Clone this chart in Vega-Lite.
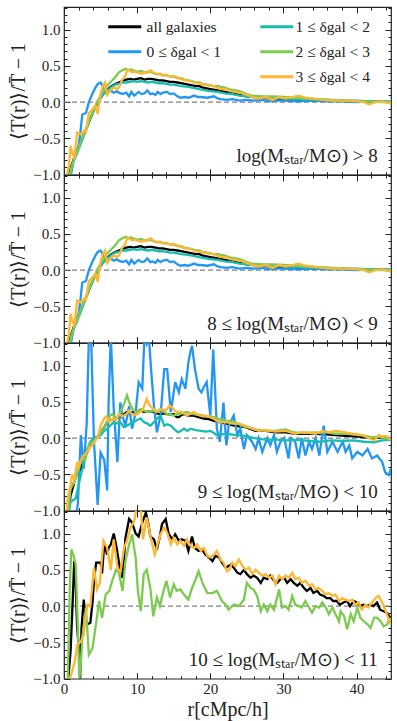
{
"$schema":"https://vega.github.io/schema/vega-lite/v6.json",
"background":"white",
"padding":{"left":8,"top":5,"right":4,"bottom":4},
"config":{"font":"Liberation Serif","view":{"stroke":"#222","strokeWidth":1.2},
"axis":{"grid":false,"domain":false,"labelFont":"Liberation Serif","labelFontSize":15,"labelColor":"#222","tickColor":"#222","tickWidth":1,"titleFont":"Liberation Serif","titleFontSize":20,"titleFontWeight":"normal","titleColor":"#222","labelFlush":false,"labelOverlap":false,"labelBound":false},
"legend":{"labelFont":"Liberation Serif","labelFontSize":15.5,"labelColor":"#222"}},
"spacing":0,
"bounds":"flush",
"resolve":{"scale":{"x":"independent","y":"independent","color":"independent"}},
"datasets":{"curves":[
{"p":1,"s":"a","r":0.4,"v":-1.1},{"p":1,"s":"a","r":1.0,"v":-0.88},{"p":1,"s":"a","r":1.5,"v":-0.74},{"p":1,"s":"a","r":2.0,"v":-0.61},{"p":1,"s":"a","r":2.5,"v":-0.5},{"p":1,"s":"a","r":3.0,"v":-0.38},{"p":1,"s":"a","r":3.5,"v":-0.25},{"p":1,"s":"a","r":4.0,"v":-0.13},{"p":1,"s":"a","r":4.5,"v":-0.03},{"p":1,"s":"a","r":5.0,"v":0.06},{"p":1,"s":"a","r":5.5,"v":0.13},{"p":1,"s":"a","r":6.0,"v":0.18},{"p":1,"s":"a","r":6.5,"v":0.22},{"p":1,"s":"a","r":7.0,"v":0.25},{"p":1,"s":"a","r":7.5,"v":0.27},{"p":1,"s":"a","r":8.0,"v":0.29},{"p":1,"s":"a","r":8.5,"v":0.31},{"p":1,"s":"a","r":9.0,"v":0.32},{"p":1,"s":"a","r":9.5,"v":0.31},{"p":1,"s":"a","r":10.0,"v":0.32},{"p":1,"s":"a","r":10.5,"v":0.33},{"p":1,"s":"a","r":11.0,"v":0.31},{"p":1,"s":"a","r":11.5,"v":0.32},{"p":1,"s":"a","r":12.0,"v":0.32},{"p":1,"s":"a","r":12.5,"v":0.31},{"p":1,"s":"a","r":13.0,"v":0.3},{"p":1,"s":"a","r":13.5,"v":0.3},{"p":1,"s":"a","r":14.0,"v":0.29},{"p":1,"s":"a","r":14.5,"v":0.28},{"p":1,"s":"a","r":15.0,"v":0.28},{"p":1,"s":"a","r":15.5,"v":0.27},{"p":1,"s":"a","r":16.0,"v":0.26},{"p":1,"s":"a","r":16.5,"v":0.25},{"p":1,"s":"a","r":17.0,"v":0.24},{"p":1,"s":"a","r":17.5,"v":0.23},{"p":1,"s":"a","r":18.0,"v":0.22},{"p":1,"s":"a","r":18.5,"v":0.22},{"p":1,"s":"a","r":19.0,"v":0.2},{"p":1,"s":"a","r":20.0,"v":0.18},{"p":1,"s":"a","r":21.0,"v":0.16},{"p":1,"s":"a","r":22.0,"v":0.14},{"p":1,"s":"a","r":23.0,"v":0.12},{"p":1,"s":"a","r":24.0,"v":0.1},{"p":1,"s":"a","r":25.0,"v":0.08},{"p":1,"s":"a","r":26.0,"v":0.07},{"p":1,"s":"a","r":27.0,"v":0.06},{"p":1,"s":"a","r":28.0,"v":0.05},{"p":1,"s":"a","r":30.0,"v":0.04},{"p":1,"s":"a","r":32.0,"v":0.03},{"p":1,"s":"a","r":34.0,"v":0.03},{"p":1,"s":"a","r":36.0,"v":0.02},{"p":1,"s":"a","r":38.0,"v":0.02},{"p":1,"s":"a","r":40.0,"v":0.01},{"p":1,"s":"a","r":42.0,"v":0.01},{"p":1,"s":"a","r":44.7,"v":0.0},
{"p":1,"s":"b","r":0.8,"v":-1.1},{"p":1,"s":"b","r":1.2,"v":-0.85},{"p":1,"s":"b","r":1.6,"v":-0.7},{"p":1,"s":"b","r":2.0,"v":-0.6},{"p":1,"s":"b","r":2.2,"v":-0.45},{"p":1,"s":"b","r":2.5,"v":-0.17},{"p":1,"s":"b","r":3.0,"v":-0.15},{"p":1,"s":"b","r":3.4,"v":0.0},{"p":1,"s":"b","r":3.9,"v":0.12},{"p":1,"s":"b","r":4.3,"v":0.2},{"p":1,"s":"b","r":4.6,"v":0.25},{"p":1,"s":"b","r":5.0,"v":0.27},{"p":1,"s":"b","r":5.3,"v":0.22},{"p":1,"s":"b","r":5.5,"v":0.15},{"p":1,"s":"b","r":5.9,"v":0.12},{"p":1,"s":"b","r":6.4,"v":0.16},{"p":1,"s":"b","r":6.8,"v":0.13},{"p":1,"s":"b","r":7.2,"v":0.15},{"p":1,"s":"b","r":7.5,"v":0.13},{"p":1,"s":"b","r":8.0,"v":0.11},{"p":1,"s":"b","r":8.5,"v":0.13},{"p":1,"s":"b","r":8.9,"v":0.08},{"p":1,"s":"b","r":9.2,"v":0.14},{"p":1,"s":"b","r":9.6,"v":0.09},{"p":1,"s":"b","r":10.2,"v":0.14},{"p":1,"s":"b","r":10.6,"v":0.11},{"p":1,"s":"b","r":11.0,"v":0.12},{"p":1,"s":"b","r":11.4,"v":0.16},{"p":1,"s":"b","r":11.8,"v":0.11},{"p":1,"s":"b","r":12.1,"v":0.12},{"p":1,"s":"b","r":12.5,"v":0.1},{"p":1,"s":"b","r":12.8,"v":0.14},{"p":1,"s":"b","r":13.2,"v":0.11},{"p":1,"s":"b","r":13.5,"v":0.13},{"p":1,"s":"b","r":14.1,"v":0.14},{"p":1,"s":"b","r":14.5,"v":0.11},{"p":1,"s":"b","r":15.0,"v":0.12},{"p":1,"s":"b","r":15.5,"v":0.08},{"p":1,"s":"b","r":15.9,"v":0.06},{"p":1,"s":"b","r":16.5,"v":0.07},{"p":1,"s":"b","r":17.0,"v":0.06},{"p":1,"s":"b","r":17.8,"v":0.09},{"p":1,"s":"b","r":18.3,"v":0.07},{"p":1,"s":"b","r":18.7,"v":0.07},{"p":1,"s":"b","r":19.6,"v":0.06},{"p":1,"s":"b","r":20.5,"v":0.08},{"p":1,"s":"b","r":21.0,"v":0.05},{"p":1,"s":"b","r":21.4,"v":0.04},{"p":1,"s":"b","r":22.3,"v":0.03},{"p":1,"s":"b","r":23.0,"v":0.04},{"p":1,"s":"b","r":24.0,"v":0.02},{"p":1,"s":"b","r":25.0,"v":0.03},{"p":1,"s":"b","r":26.0,"v":0.02},{"p":1,"s":"b","r":27.0,"v":0.03},{"p":1,"s":"b","r":28.0,"v":0.01},{"p":1,"s":"b","r":29.0,"v":0.02},{"p":1,"s":"b","r":30.0,"v":0.02},{"p":1,"s":"b","r":32.0,"v":0.01},{"p":1,"s":"b","r":34.0,"v":0.02},{"p":1,"s":"b","r":36.0,"v":0.01},{"p":1,"s":"b","r":38.0,"v":0.01},{"p":1,"s":"b","r":40.0,"v":0.0},{"p":1,"s":"b","r":42.0,"v":0.01},{"p":1,"s":"b","r":44.7,"v":0.0},
{"p":1,"s":"c","r":0.7,"v":-1.1},{"p":1,"s":"c","r":1.2,"v":-0.85},{"p":1,"s":"c","r":1.8,"v":-0.7},{"p":1,"s":"c","r":2.5,"v":-0.52},{"p":1,"s":"c","r":3.0,"v":-0.38},{"p":1,"s":"c","r":3.5,"v":-0.25},{"p":1,"s":"c","r":4.0,"v":-0.13},{"p":1,"s":"c","r":4.5,"v":-0.02},{"p":1,"s":"c","r":5.0,"v":0.06},{"p":1,"s":"c","r":5.5,"v":0.12},{"p":1,"s":"c","r":6.0,"v":0.17},{"p":1,"s":"c","r":6.5,"v":0.21},{"p":1,"s":"c","r":7.0,"v":0.24},{"p":1,"s":"c","r":7.5,"v":0.25},{"p":1,"s":"c","r":8.0,"v":0.27},{"p":1,"s":"c","r":8.5,"v":0.27},{"p":1,"s":"c","r":9.0,"v":0.28},{"p":1,"s":"c","r":9.5,"v":0.29},{"p":1,"s":"c","r":10.0,"v":0.28},{"p":1,"s":"c","r":10.5,"v":0.29},{"p":1,"s":"c","r":11.0,"v":0.28},{"p":1,"s":"c","r":11.5,"v":0.27},{"p":1,"s":"c","r":12.0,"v":0.28},{"p":1,"s":"c","r":12.5,"v":0.27},{"p":1,"s":"c","r":13.0,"v":0.26},{"p":1,"s":"c","r":13.5,"v":0.26},{"p":1,"s":"c","r":14.0,"v":0.25},{"p":1,"s":"c","r":14.5,"v":0.24},{"p":1,"s":"c","r":15.0,"v":0.24},{"p":1,"s":"c","r":16.0,"v":0.22},{"p":1,"s":"c","r":17.0,"v":0.21},{"p":1,"s":"c","r":18.0,"v":0.19},{"p":1,"s":"c","r":19.0,"v":0.17},{"p":1,"s":"c","r":20.0,"v":0.15},{"p":1,"s":"c","r":21.0,"v":0.14},{"p":1,"s":"c","r":22.0,"v":0.12},{"p":1,"s":"c","r":23.0,"v":0.11},{"p":1,"s":"c","r":24.0,"v":0.09},{"p":1,"s":"c","r":25.0,"v":0.08},{"p":1,"s":"c","r":26.0,"v":0.07},{"p":1,"s":"c","r":27.0,"v":0.07},{"p":1,"s":"c","r":28.0,"v":0.06},{"p":1,"s":"c","r":30.0,"v":0.05},{"p":1,"s":"c","r":32.0,"v":0.04},{"p":1,"s":"c","r":34.0,"v":0.03},{"p":1,"s":"c","r":36.0,"v":0.03},{"p":1,"s":"c","r":38.0,"v":0.02},{"p":1,"s":"c","r":40.0,"v":0.02},{"p":1,"s":"c","r":42.0,"v":0.01},{"p":1,"s":"c","r":44.7,"v":0.01},
{"p":1,"s":"d","r":0.6,"v":-1.1},{"p":1,"s":"d","r":1.0,"v":-0.9},{"p":1,"s":"d","r":1.5,"v":-0.76},{"p":1,"s":"d","r":2.0,"v":-0.62},{"p":1,"s":"d","r":2.5,"v":-0.5},{"p":1,"s":"d","r":3.0,"v":-0.37},{"p":1,"s":"d","r":3.5,"v":-0.24},{"p":1,"s":"d","r":4.0,"v":-0.12},{"p":1,"s":"d","r":4.5,"v":0.0},{"p":1,"s":"d","r":5.0,"v":0.09},{"p":1,"s":"d","r":5.5,"v":0.17},{"p":1,"s":"d","r":6.0,"v":0.24},{"p":1,"s":"d","r":6.5,"v":0.29},{"p":1,"s":"d","r":7.0,"v":0.34},{"p":1,"s":"d","r":7.5,"v":0.41},{"p":1,"s":"d","r":8.0,"v":0.44},{"p":1,"s":"d","r":8.4,"v":0.46},{"p":1,"s":"d","r":8.8,"v":0.44},{"p":1,"s":"d","r":9.2,"v":0.45},{"p":1,"s":"d","r":9.6,"v":0.43},{"p":1,"s":"d","r":10.0,"v":0.42},{"p":1,"s":"d","r":10.5,"v":0.43},{"p":1,"s":"d","r":11.0,"v":0.41},{"p":1,"s":"d","r":11.5,"v":0.42},{"p":1,"s":"d","r":12.0,"v":0.41},{"p":1,"s":"d","r":12.5,"v":0.39},{"p":1,"s":"d","r":13.0,"v":0.39},{"p":1,"s":"d","r":13.5,"v":0.37},{"p":1,"s":"d","r":14.0,"v":0.37},{"p":1,"s":"d","r":14.5,"v":0.35},{"p":1,"s":"d","r":15.0,"v":0.35},{"p":1,"s":"d","r":15.5,"v":0.33},{"p":1,"s":"d","r":16.0,"v":0.33},{"p":1,"s":"d","r":16.5,"v":0.31},{"p":1,"s":"d","r":17.0,"v":0.3},{"p":1,"s":"d","r":17.5,"v":0.29},{"p":1,"s":"d","r":18.0,"v":0.27},{"p":1,"s":"d","r":18.5,"v":0.27},{"p":1,"s":"d","r":19.0,"v":0.25},{"p":1,"s":"d","r":19.5,"v":0.24},{"p":1,"s":"d","r":20.0,"v":0.23},{"p":1,"s":"d","r":20.5,"v":0.22},{"p":1,"s":"d","r":21.0,"v":0.22},{"p":1,"s":"d","r":21.5,"v":0.21},{"p":1,"s":"d","r":22.0,"v":0.2},{"p":1,"s":"d","r":22.5,"v":0.18},{"p":1,"s":"d","r":23.0,"v":0.17},{"p":1,"s":"d","r":24.0,"v":0.15},{"p":1,"s":"d","r":25.0,"v":0.11},{"p":1,"s":"d","r":25.7,"v":0.09},{"p":1,"s":"d","r":27.0,"v":0.08},{"p":1,"s":"d","r":28.5,"v":0.08},{"p":1,"s":"d","r":30.0,"v":0.07},{"p":1,"s":"d","r":31.5,"v":0.06},{"p":1,"s":"d","r":33.0,"v":0.05},{"p":1,"s":"d","r":34.8,"v":0.04},{"p":1,"s":"d","r":36.7,"v":0.03},{"p":1,"s":"d","r":38.5,"v":0.02},{"p":1,"s":"d","r":40.3,"v":0.01},{"p":1,"s":"d","r":42.0,"v":0.01},{"p":1,"s":"d","r":43.5,"v":0.0},{"p":1,"s":"d","r":44.7,"v":0.0},
{"p":1,"s":"e","r":0.3,"v":-1.1},{"p":1,"s":"e","r":0.7,"v":-0.85},{"p":1,"s":"e","r":0.9,"v":-0.6},{"p":1,"s":"e","r":1.2,"v":-0.72},{"p":1,"s":"e","r":1.4,"v":-0.76},{"p":1,"s":"e","r":1.8,"v":-0.42},{"p":1,"s":"e","r":2.3,"v":-0.44},{"p":1,"s":"e","r":2.7,"v":-0.4},{"p":1,"s":"e","r":3.0,"v":-0.41},{"p":1,"s":"e","r":3.4,"v":-0.15},{"p":1,"s":"e","r":3.9,"v":-0.1},{"p":1,"s":"e","r":4.3,"v":-0.05},{"p":1,"s":"e","r":4.6,"v":-0.16},{"p":1,"s":"e","r":5.0,"v":0.12},{"p":1,"s":"e","r":5.3,"v":0.22},{"p":1,"s":"e","r":5.6,"v":0.27},{"p":1,"s":"e","r":5.9,"v":0.1},{"p":1,"s":"e","r":6.4,"v":0.17},{"p":1,"s":"e","r":6.8,"v":0.2},{"p":1,"s":"e","r":7.3,"v":0.18},{"p":1,"s":"e","r":7.6,"v":0.22},{"p":1,"s":"e","r":7.9,"v":0.3},{"p":1,"s":"e","r":8.3,"v":0.35},{"p":1,"s":"e","r":8.7,"v":0.45},{"p":1,"s":"e","r":9.0,"v":0.43},{"p":1,"s":"e","r":9.3,"v":0.41},{"p":1,"s":"e","r":9.7,"v":0.42},{"p":1,"s":"e","r":10.0,"v":0.41},{"p":1,"s":"e","r":10.3,"v":0.4},{"p":1,"s":"e","r":10.7,"v":0.39},{"p":1,"s":"e","r":11.0,"v":0.41},{"p":1,"s":"e","r":11.4,"v":0.4},{"p":1,"s":"e","r":11.8,"v":0.44},{"p":1,"s":"e","r":12.2,"v":0.41},{"p":1,"s":"e","r":12.5,"v":0.39},{"p":1,"s":"e","r":12.9,"v":0.38},{"p":1,"s":"e","r":13.2,"v":0.39},{"p":1,"s":"e","r":13.6,"v":0.37},{"p":1,"s":"e","r":13.9,"v":0.38},{"p":1,"s":"e","r":14.3,"v":0.36},{"p":1,"s":"e","r":14.6,"v":0.35},{"p":1,"s":"e","r":15.0,"v":0.36},{"p":1,"s":"e","r":15.3,"v":0.35},{"p":1,"s":"e","r":15.9,"v":0.32},{"p":1,"s":"e","r":16.6,"v":0.3},{"p":1,"s":"e","r":17.3,"v":0.29},{"p":1,"s":"e","r":18.0,"v":0.26},{"p":1,"s":"e","r":18.7,"v":0.25},{"p":1,"s":"e","r":19.6,"v":0.23},{"p":1,"s":"e","r":20.5,"v":0.22},{"p":1,"s":"e","r":21.4,"v":0.18},{"p":1,"s":"e","r":22.1,"v":0.18},{"p":1,"s":"e","r":22.8,"v":0.15},{"p":1,"s":"e","r":23.5,"v":0.14},{"p":1,"s":"e","r":24.4,"v":0.12},{"p":1,"s":"e","r":25.0,"v":0.1},{"p":1,"s":"e","r":25.7,"v":0.07},{"p":1,"s":"e","r":26.6,"v":0.05},{"p":1,"s":"e","r":27.6,"v":0.07},{"p":1,"s":"e","r":28.5,"v":0.03},{"p":1,"s":"e","r":29.4,"v":0.07},{"p":1,"s":"e","r":30.3,"v":0.05},{"p":1,"s":"e","r":31.2,"v":0.07},{"p":1,"s":"e","r":32.1,"v":0.09},{"p":1,"s":"e","r":33.0,"v":0.06},{"p":1,"s":"e","r":33.9,"v":0.05},{"p":1,"s":"e","r":35.3,"v":0.03},{"p":1,"s":"e","r":36.7,"v":0.02},{"p":1,"s":"e","r":38.5,"v":0.02},{"p":1,"s":"e","r":40.3,"v":0.01},{"p":1,"s":"e","r":41.0,"v":0.0},{"p":1,"s":"e","r":41.7,"v":-0.03},{"p":1,"s":"e","r":42.6,"v":0.0},{"p":1,"s":"e","r":43.5,"v":0.01},{"p":1,"s":"e","r":44.7,"v":-0.02},
{"p":2,"s":"a","r":0.4,"v":-1.1},{"p":2,"s":"a","r":1.0,"v":-0.88},{"p":2,"s":"a","r":1.5,"v":-0.74},{"p":2,"s":"a","r":2.0,"v":-0.61},{"p":2,"s":"a","r":2.5,"v":-0.5},{"p":2,"s":"a","r":3.0,"v":-0.38},{"p":2,"s":"a","r":3.5,"v":-0.25},{"p":2,"s":"a","r":4.0,"v":-0.13},{"p":2,"s":"a","r":4.5,"v":-0.03},{"p":2,"s":"a","r":5.0,"v":0.06},{"p":2,"s":"a","r":5.5,"v":0.13},{"p":2,"s":"a","r":6.0,"v":0.18},{"p":2,"s":"a","r":6.5,"v":0.22},{"p":2,"s":"a","r":7.0,"v":0.25},{"p":2,"s":"a","r":7.5,"v":0.27},{"p":2,"s":"a","r":8.0,"v":0.29},{"p":2,"s":"a","r":8.5,"v":0.31},{"p":2,"s":"a","r":9.0,"v":0.32},{"p":2,"s":"a","r":9.5,"v":0.31},{"p":2,"s":"a","r":10.0,"v":0.32},{"p":2,"s":"a","r":10.5,"v":0.33},{"p":2,"s":"a","r":11.0,"v":0.31},{"p":2,"s":"a","r":11.5,"v":0.32},{"p":2,"s":"a","r":12.0,"v":0.32},{"p":2,"s":"a","r":12.5,"v":0.31},{"p":2,"s":"a","r":13.0,"v":0.3},{"p":2,"s":"a","r":13.5,"v":0.3},{"p":2,"s":"a","r":14.0,"v":0.29},{"p":2,"s":"a","r":14.5,"v":0.28},{"p":2,"s":"a","r":15.0,"v":0.28},{"p":2,"s":"a","r":15.5,"v":0.27},{"p":2,"s":"a","r":16.0,"v":0.26},{"p":2,"s":"a","r":16.5,"v":0.25},{"p":2,"s":"a","r":17.0,"v":0.24},{"p":2,"s":"a","r":17.5,"v":0.23},{"p":2,"s":"a","r":18.0,"v":0.22},{"p":2,"s":"a","r":18.5,"v":0.22},{"p":2,"s":"a","r":19.0,"v":0.2},{"p":2,"s":"a","r":20.0,"v":0.18},{"p":2,"s":"a","r":21.0,"v":0.16},{"p":2,"s":"a","r":22.0,"v":0.14},{"p":2,"s":"a","r":23.0,"v":0.12},{"p":2,"s":"a","r":24.0,"v":0.1},{"p":2,"s":"a","r":25.0,"v":0.08},{"p":2,"s":"a","r":26.0,"v":0.07},{"p":2,"s":"a","r":27.0,"v":0.06},{"p":2,"s":"a","r":28.0,"v":0.05},{"p":2,"s":"a","r":30.0,"v":0.04},{"p":2,"s":"a","r":32.0,"v":0.03},{"p":2,"s":"a","r":34.0,"v":0.03},{"p":2,"s":"a","r":36.0,"v":0.02},{"p":2,"s":"a","r":38.0,"v":0.02},{"p":2,"s":"a","r":40.0,"v":0.01},{"p":2,"s":"a","r":42.0,"v":0.01},{"p":2,"s":"a","r":44.7,"v":0.0},
{"p":2,"s":"b","r":0.8,"v":-1.1},{"p":2,"s":"b","r":1.2,"v":-0.85},{"p":2,"s":"b","r":1.6,"v":-0.7},{"p":2,"s":"b","r":2.0,"v":-0.6},{"p":2,"s":"b","r":2.2,"v":-0.45},{"p":2,"s":"b","r":2.5,"v":-0.17},{"p":2,"s":"b","r":3.0,"v":-0.15},{"p":2,"s":"b","r":3.4,"v":0.0},{"p":2,"s":"b","r":3.9,"v":0.12},{"p":2,"s":"b","r":4.3,"v":0.2},{"p":2,"s":"b","r":4.6,"v":0.25},{"p":2,"s":"b","r":5.0,"v":0.27},{"p":2,"s":"b","r":5.3,"v":0.22},{"p":2,"s":"b","r":5.5,"v":0.15},{"p":2,"s":"b","r":5.9,"v":0.12},{"p":2,"s":"b","r":6.4,"v":0.16},{"p":2,"s":"b","r":6.8,"v":0.13},{"p":2,"s":"b","r":7.2,"v":0.15},{"p":2,"s":"b","r":7.5,"v":0.13},{"p":2,"s":"b","r":8.0,"v":0.11},{"p":2,"s":"b","r":8.5,"v":0.13},{"p":2,"s":"b","r":8.9,"v":0.08},{"p":2,"s":"b","r":9.2,"v":0.14},{"p":2,"s":"b","r":9.6,"v":0.09},{"p":2,"s":"b","r":10.2,"v":0.14},{"p":2,"s":"b","r":10.6,"v":0.11},{"p":2,"s":"b","r":11.0,"v":0.12},{"p":2,"s":"b","r":11.4,"v":0.16},{"p":2,"s":"b","r":11.8,"v":0.11},{"p":2,"s":"b","r":12.1,"v":0.12},{"p":2,"s":"b","r":12.5,"v":0.1},{"p":2,"s":"b","r":12.8,"v":0.14},{"p":2,"s":"b","r":13.2,"v":0.11},{"p":2,"s":"b","r":13.5,"v":0.13},{"p":2,"s":"b","r":14.1,"v":0.14},{"p":2,"s":"b","r":14.5,"v":0.11},{"p":2,"s":"b","r":15.0,"v":0.12},{"p":2,"s":"b","r":15.5,"v":0.08},{"p":2,"s":"b","r":15.9,"v":0.06},{"p":2,"s":"b","r":16.5,"v":0.07},{"p":2,"s":"b","r":17.0,"v":0.06},{"p":2,"s":"b","r":17.8,"v":0.09},{"p":2,"s":"b","r":18.3,"v":0.07},{"p":2,"s":"b","r":18.7,"v":0.07},{"p":2,"s":"b","r":19.6,"v":0.06},{"p":2,"s":"b","r":20.5,"v":0.08},{"p":2,"s":"b","r":21.0,"v":0.05},{"p":2,"s":"b","r":21.4,"v":0.04},{"p":2,"s":"b","r":22.3,"v":0.03},{"p":2,"s":"b","r":23.0,"v":0.04},{"p":2,"s":"b","r":24.0,"v":0.02},{"p":2,"s":"b","r":25.0,"v":0.03},{"p":2,"s":"b","r":26.0,"v":0.02},{"p":2,"s":"b","r":27.0,"v":0.03},{"p":2,"s":"b","r":28.0,"v":0.01},{"p":2,"s":"b","r":29.0,"v":0.02},{"p":2,"s":"b","r":30.0,"v":0.02},{"p":2,"s":"b","r":32.0,"v":0.01},{"p":2,"s":"b","r":34.0,"v":0.02},{"p":2,"s":"b","r":36.0,"v":0.01},{"p":2,"s":"b","r":38.0,"v":0.01},{"p":2,"s":"b","r":40.0,"v":0.0},{"p":2,"s":"b","r":42.0,"v":0.01},{"p":2,"s":"b","r":44.7,"v":0.0},
{"p":2,"s":"c","r":0.7,"v":-1.1},{"p":2,"s":"c","r":1.2,"v":-0.85},{"p":2,"s":"c","r":1.8,"v":-0.7},{"p":2,"s":"c","r":2.5,"v":-0.52},{"p":2,"s":"c","r":3.0,"v":-0.38},{"p":2,"s":"c","r":3.5,"v":-0.25},{"p":2,"s":"c","r":4.0,"v":-0.13},{"p":2,"s":"c","r":4.5,"v":-0.02},{"p":2,"s":"c","r":5.0,"v":0.06},{"p":2,"s":"c","r":5.5,"v":0.12},{"p":2,"s":"c","r":6.0,"v":0.17},{"p":2,"s":"c","r":6.5,"v":0.21},{"p":2,"s":"c","r":7.0,"v":0.24},{"p":2,"s":"c","r":7.5,"v":0.25},{"p":2,"s":"c","r":8.0,"v":0.27},{"p":2,"s":"c","r":8.5,"v":0.27},{"p":2,"s":"c","r":9.0,"v":0.28},{"p":2,"s":"c","r":9.5,"v":0.29},{"p":2,"s":"c","r":10.0,"v":0.28},{"p":2,"s":"c","r":10.5,"v":0.29},{"p":2,"s":"c","r":11.0,"v":0.28},{"p":2,"s":"c","r":11.5,"v":0.27},{"p":2,"s":"c","r":12.0,"v":0.28},{"p":2,"s":"c","r":12.5,"v":0.27},{"p":2,"s":"c","r":13.0,"v":0.26},{"p":2,"s":"c","r":13.5,"v":0.26},{"p":2,"s":"c","r":14.0,"v":0.25},{"p":2,"s":"c","r":14.5,"v":0.24},{"p":2,"s":"c","r":15.0,"v":0.24},{"p":2,"s":"c","r":16.0,"v":0.22},{"p":2,"s":"c","r":17.0,"v":0.21},{"p":2,"s":"c","r":18.0,"v":0.19},{"p":2,"s":"c","r":19.0,"v":0.17},{"p":2,"s":"c","r":20.0,"v":0.15},{"p":2,"s":"c","r":21.0,"v":0.14},{"p":2,"s":"c","r":22.0,"v":0.12},{"p":2,"s":"c","r":23.0,"v":0.11},{"p":2,"s":"c","r":24.0,"v":0.09},{"p":2,"s":"c","r":25.0,"v":0.08},{"p":2,"s":"c","r":26.0,"v":0.07},{"p":2,"s":"c","r":27.0,"v":0.07},{"p":2,"s":"c","r":28.0,"v":0.06},{"p":2,"s":"c","r":30.0,"v":0.05},{"p":2,"s":"c","r":32.0,"v":0.04},{"p":2,"s":"c","r":34.0,"v":0.03},{"p":2,"s":"c","r":36.0,"v":0.03},{"p":2,"s":"c","r":38.0,"v":0.02},{"p":2,"s":"c","r":40.0,"v":0.02},{"p":2,"s":"c","r":42.0,"v":0.01},{"p":2,"s":"c","r":44.7,"v":0.01},
{"p":2,"s":"d","r":0.6,"v":-1.1},{"p":2,"s":"d","r":1.0,"v":-0.9},{"p":2,"s":"d","r":1.5,"v":-0.76},{"p":2,"s":"d","r":2.0,"v":-0.62},{"p":2,"s":"d","r":2.5,"v":-0.5},{"p":2,"s":"d","r":3.0,"v":-0.37},{"p":2,"s":"d","r":3.5,"v":-0.24},{"p":2,"s":"d","r":4.0,"v":-0.12},{"p":2,"s":"d","r":4.5,"v":0.0},{"p":2,"s":"d","r":5.0,"v":0.09},{"p":2,"s":"d","r":5.5,"v":0.17},{"p":2,"s":"d","r":6.0,"v":0.24},{"p":2,"s":"d","r":6.5,"v":0.29},{"p":2,"s":"d","r":7.0,"v":0.34},{"p":2,"s":"d","r":7.5,"v":0.41},{"p":2,"s":"d","r":8.0,"v":0.44},{"p":2,"s":"d","r":8.4,"v":0.46},{"p":2,"s":"d","r":8.8,"v":0.44},{"p":2,"s":"d","r":9.2,"v":0.45},{"p":2,"s":"d","r":9.6,"v":0.43},{"p":2,"s":"d","r":10.0,"v":0.42},{"p":2,"s":"d","r":10.5,"v":0.43},{"p":2,"s":"d","r":11.0,"v":0.41},{"p":2,"s":"d","r":11.5,"v":0.42},{"p":2,"s":"d","r":12.0,"v":0.41},{"p":2,"s":"d","r":12.5,"v":0.39},{"p":2,"s":"d","r":13.0,"v":0.39},{"p":2,"s":"d","r":13.5,"v":0.37},{"p":2,"s":"d","r":14.0,"v":0.37},{"p":2,"s":"d","r":14.5,"v":0.35},{"p":2,"s":"d","r":15.0,"v":0.35},{"p":2,"s":"d","r":15.5,"v":0.33},{"p":2,"s":"d","r":16.0,"v":0.33},{"p":2,"s":"d","r":16.5,"v":0.31},{"p":2,"s":"d","r":17.0,"v":0.3},{"p":2,"s":"d","r":17.5,"v":0.29},{"p":2,"s":"d","r":18.0,"v":0.27},{"p":2,"s":"d","r":18.5,"v":0.27},{"p":2,"s":"d","r":19.0,"v":0.25},{"p":2,"s":"d","r":19.5,"v":0.24},{"p":2,"s":"d","r":20.0,"v":0.23},{"p":2,"s":"d","r":20.5,"v":0.22},{"p":2,"s":"d","r":21.0,"v":0.22},{"p":2,"s":"d","r":21.5,"v":0.21},{"p":2,"s":"d","r":22.0,"v":0.2},{"p":2,"s":"d","r":22.5,"v":0.18},{"p":2,"s":"d","r":23.0,"v":0.17},{"p":2,"s":"d","r":24.0,"v":0.15},{"p":2,"s":"d","r":25.0,"v":0.11},{"p":2,"s":"d","r":25.7,"v":0.09},{"p":2,"s":"d","r":27.0,"v":0.08},{"p":2,"s":"d","r":28.5,"v":0.08},{"p":2,"s":"d","r":30.0,"v":0.07},{"p":2,"s":"d","r":31.5,"v":0.06},{"p":2,"s":"d","r":33.0,"v":0.05},{"p":2,"s":"d","r":34.8,"v":0.04},{"p":2,"s":"d","r":36.7,"v":0.03},{"p":2,"s":"d","r":38.5,"v":0.02},{"p":2,"s":"d","r":40.3,"v":0.01},{"p":2,"s":"d","r":42.0,"v":0.01},{"p":2,"s":"d","r":43.5,"v":0.0},{"p":2,"s":"d","r":44.7,"v":0.0},
{"p":2,"s":"e","r":0.3,"v":-1.1},{"p":2,"s":"e","r":0.7,"v":-0.85},{"p":2,"s":"e","r":0.9,"v":-0.6},{"p":2,"s":"e","r":1.2,"v":-0.72},{"p":2,"s":"e","r":1.4,"v":-0.76},{"p":2,"s":"e","r":1.8,"v":-0.42},{"p":2,"s":"e","r":2.3,"v":-0.44},{"p":2,"s":"e","r":2.7,"v":-0.4},{"p":2,"s":"e","r":3.0,"v":-0.41},{"p":2,"s":"e","r":3.4,"v":-0.15},{"p":2,"s":"e","r":3.9,"v":-0.1},{"p":2,"s":"e","r":4.3,"v":-0.05},{"p":2,"s":"e","r":4.6,"v":-0.16},{"p":2,"s":"e","r":5.0,"v":0.12},{"p":2,"s":"e","r":5.3,"v":0.22},{"p":2,"s":"e","r":5.6,"v":0.27},{"p":2,"s":"e","r":5.9,"v":0.1},{"p":2,"s":"e","r":6.4,"v":0.17},{"p":2,"s":"e","r":6.8,"v":0.2},{"p":2,"s":"e","r":7.3,"v":0.18},{"p":2,"s":"e","r":7.6,"v":0.22},{"p":2,"s":"e","r":7.9,"v":0.3},{"p":2,"s":"e","r":8.3,"v":0.35},{"p":2,"s":"e","r":8.7,"v":0.45},{"p":2,"s":"e","r":9.0,"v":0.43},{"p":2,"s":"e","r":9.3,"v":0.41},{"p":2,"s":"e","r":9.7,"v":0.42},{"p":2,"s":"e","r":10.0,"v":0.41},{"p":2,"s":"e","r":10.3,"v":0.4},{"p":2,"s":"e","r":10.7,"v":0.39},{"p":2,"s":"e","r":11.0,"v":0.41},{"p":2,"s":"e","r":11.4,"v":0.4},{"p":2,"s":"e","r":11.8,"v":0.44},{"p":2,"s":"e","r":12.2,"v":0.41},{"p":2,"s":"e","r":12.5,"v":0.39},{"p":2,"s":"e","r":12.9,"v":0.38},{"p":2,"s":"e","r":13.2,"v":0.39},{"p":2,"s":"e","r":13.6,"v":0.37},{"p":2,"s":"e","r":13.9,"v":0.38},{"p":2,"s":"e","r":14.3,"v":0.36},{"p":2,"s":"e","r":14.6,"v":0.35},{"p":2,"s":"e","r":15.0,"v":0.36},{"p":2,"s":"e","r":15.3,"v":0.35},{"p":2,"s":"e","r":15.9,"v":0.32},{"p":2,"s":"e","r":16.6,"v":0.3},{"p":2,"s":"e","r":17.3,"v":0.29},{"p":2,"s":"e","r":18.0,"v":0.26},{"p":2,"s":"e","r":18.7,"v":0.25},{"p":2,"s":"e","r":19.6,"v":0.23},{"p":2,"s":"e","r":20.5,"v":0.22},{"p":2,"s":"e","r":21.4,"v":0.18},{"p":2,"s":"e","r":22.1,"v":0.18},{"p":2,"s":"e","r":22.8,"v":0.15},{"p":2,"s":"e","r":23.5,"v":0.14},{"p":2,"s":"e","r":24.4,"v":0.12},{"p":2,"s":"e","r":25.0,"v":0.1},{"p":2,"s":"e","r":25.7,"v":0.07},{"p":2,"s":"e","r":26.6,"v":0.05},{"p":2,"s":"e","r":27.6,"v":0.07},{"p":2,"s":"e","r":28.5,"v":0.03},{"p":2,"s":"e","r":29.4,"v":0.07},{"p":2,"s":"e","r":30.3,"v":0.05},{"p":2,"s":"e","r":31.2,"v":0.07},{"p":2,"s":"e","r":32.1,"v":0.09},{"p":2,"s":"e","r":33.0,"v":0.06},{"p":2,"s":"e","r":33.9,"v":0.05},{"p":2,"s":"e","r":35.3,"v":0.03},{"p":2,"s":"e","r":36.7,"v":0.02},{"p":2,"s":"e","r":38.5,"v":0.02},{"p":2,"s":"e","r":40.3,"v":0.01},{"p":2,"s":"e","r":41.0,"v":0.0},{"p":2,"s":"e","r":41.7,"v":-0.03},{"p":2,"s":"e","r":42.6,"v":0.0},{"p":2,"s":"e","r":43.5,"v":0.01},{"p":2,"s":"e","r":44.7,"v":-0.02},
{"p":3,"s":"a","r":0.5,"v":-1.1},{"p":3,"s":"a","r":0.9,"v":-0.79},{"p":3,"s":"a","r":1.3,"v":-0.65},{"p":3,"s":"a","r":1.6,"v":-0.51},{"p":3,"s":"a","r":2.0,"v":-0.47},{"p":3,"s":"a","r":2.3,"v":-0.42},{"p":3,"s":"a","r":2.7,"v":-0.3},{"p":3,"s":"a","r":3.2,"v":-0.19},{"p":3,"s":"a","r":3.6,"v":-0.1},{"p":3,"s":"a","r":4.1,"v":-0.05},{"p":3,"s":"a","r":4.6,"v":0.02},{"p":3,"s":"a","r":5.0,"v":0.08},{"p":3,"s":"a","r":5.5,"v":0.15},{"p":3,"s":"a","r":5.9,"v":0.22},{"p":3,"s":"a","r":6.4,"v":0.25},{"p":3,"s":"a","r":6.8,"v":0.27},{"p":3,"s":"a","r":7.3,"v":0.28},{"p":3,"s":"a","r":7.7,"v":0.29},{"p":3,"s":"a","r":8.2,"v":0.33},{"p":3,"s":"a","r":8.6,"v":0.36},{"p":3,"s":"a","r":9.1,"v":0.35},{"p":3,"s":"a","r":9.5,"v":0.36},{"p":3,"s":"a","r":10.0,"v":0.37},{"p":3,"s":"a","r":10.5,"v":0.38},{"p":3,"s":"a","r":10.9,"v":0.36},{"p":3,"s":"a","r":11.3,"v":0.36},{"p":3,"s":"a","r":11.8,"v":0.37},{"p":3,"s":"a","r":12.3,"v":0.36},{"p":3,"s":"a","r":12.7,"v":0.34},{"p":3,"s":"a","r":13.2,"v":0.33},{"p":3,"s":"a","r":13.7,"v":0.34},{"p":3,"s":"a","r":14.1,"v":0.33},{"p":3,"s":"a","r":14.6,"v":0.32},{"p":3,"s":"a","r":15.0,"v":0.33},{"p":3,"s":"a","r":15.4,"v":0.29},{"p":3,"s":"a","r":15.7,"v":0.29},{"p":3,"s":"a","r":16.1,"v":0.32},{"p":3,"s":"a","r":16.4,"v":0.33},{"p":3,"s":"a","r":17.0,"v":0.31},{"p":3,"s":"a","r":17.7,"v":0.31},{"p":3,"s":"a","r":18.4,"v":0.29},{"p":3,"s":"a","r":19.1,"v":0.27},{"p":3,"s":"a","r":19.8,"v":0.26},{"p":3,"s":"a","r":20.4,"v":0.24},{"p":3,"s":"a","r":21.3,"v":0.22},{"p":3,"s":"a","r":22.2,"v":0.2},{"p":3,"s":"a","r":23.4,"v":0.17},{"p":3,"s":"a","r":24.8,"v":0.15},{"p":3,"s":"a","r":26.2,"v":0.1},{"p":3,"s":"a","r":27.6,"v":0.1},{"p":3,"s":"a","r":28.9,"v":0.08},{"p":3,"s":"a","r":30.3,"v":0.08},{"p":3,"s":"a","r":31.6,"v":0.06},{"p":3,"s":"a","r":33.0,"v":0.06},{"p":3,"s":"a","r":34.4,"v":0.06},{"p":3,"s":"a","r":35.8,"v":0.05},{"p":3,"s":"a","r":37.1,"v":0.04},{"p":3,"s":"a","r":38.5,"v":0.03},{"p":3,"s":"a","r":40.3,"v":0.02},{"p":3,"s":"a","r":42.1,"v":0.0},{"p":3,"s":"a","r":43.5,"v":0.01},{"p":3,"s":"a","r":44.7,"v":0.0},
{"p":3,"s":"b","r":1.6,"v":-1.1},{"p":3,"s":"b","r":1.9,"v":-0.9},{"p":3,"s":"b","r":2.3,"v":0.04},{"p":3,"s":"b","r":2.7,"v":-0.42},{"p":3,"s":"b","r":3.1,"v":0.2},{"p":3,"s":"b","r":3.4,"v":1.4},{"p":3,"s":"b","r":3.7,"v":1.4},{"p":3,"s":"b","r":4.1,"v":-0.05},{"p":3,"s":"b","r":4.6,"v":-0.92},{"p":3,"s":"b","r":5.0,"v":-0.2},{"p":3,"s":"b","r":5.5,"v":-0.3},{"p":3,"s":"b","r":5.9,"v":-0.72},{"p":3,"s":"b","r":6.1,"v":0.5},{"p":3,"s":"b","r":6.4,"v":1.4},{"p":3,"s":"b","r":6.8,"v":0.4},{"p":3,"s":"b","r":7.3,"v":-0.33},{"p":3,"s":"b","r":7.7,"v":0.49},{"p":3,"s":"b","r":8.0,"v":0.3},{"p":3,"s":"b","r":8.4,"v":0.17},{"p":3,"s":"b","r":8.9,"v":0.44},{"p":3,"s":"b","r":9.3,"v":0.13},{"p":3,"s":"b","r":9.8,"v":0.36},{"p":3,"s":"b","r":10.2,"v":0.77},{"p":3,"s":"b","r":10.7,"v":0.68},{"p":3,"s":"b","r":11.0,"v":1.4},{"p":3,"s":"b","r":11.3,"v":1.3},{"p":3,"s":"b","r":11.6,"v":1.4},{"p":3,"s":"b","r":11.9,"v":0.95},{"p":3,"s":"b","r":12.3,"v":0.44},{"p":3,"s":"b","r":12.7,"v":0.08},{"p":3,"s":"b","r":13.2,"v":0.31},{"p":3,"s":"b","r":13.7,"v":0.95},{"p":3,"s":"b","r":14.1,"v":0.95},{"p":3,"s":"b","r":14.6,"v":0.36},{"p":3,"s":"b","r":15.2,"v":0.77},{"p":3,"s":"b","r":15.7,"v":0.63},{"p":3,"s":"b","r":16.1,"v":0.81},{"p":3,"s":"b","r":16.6,"v":0.68},{"p":3,"s":"b","r":17.0,"v":1.04},{"p":3,"s":"b","r":17.3,"v":1.2},{"p":3,"s":"b","r":17.5,"v":1.27},{"p":3,"s":"b","r":17.9,"v":0.95},{"p":3,"s":"b","r":18.4,"v":0.68},{"p":3,"s":"b","r":18.8,"v":0.63},{"p":3,"s":"b","r":19.1,"v":0.7},{"p":3,"s":"b","r":19.5,"v":0.77},{"p":3,"s":"b","r":20.0,"v":0.31},{"p":3,"s":"b","r":20.4,"v":1.22},{"p":3,"s":"b","r":20.9,"v":0.13},{"p":3,"s":"b","r":21.3,"v":-0.05},{"p":3,"s":"b","r":21.8,"v":0.49},{"p":3,"s":"b","r":22.2,"v":-0.1},{"p":3,"s":"b","r":22.5,"v":0.17},{"p":3,"s":"b","r":23.2,"v":0.31},{"p":3,"s":"b","r":23.7,"v":0.04},{"p":3,"s":"b","r":24.1,"v":0.13},{"p":3,"s":"b","r":24.6,"v":-0.15},{"p":3,"s":"b","r":25.0,"v":0.04},{"p":3,"s":"b","r":25.7,"v":-0.05},{"p":3,"s":"b","r":26.2,"v":-0.15},{"p":3,"s":"b","r":26.6,"v":0.0},{"p":3,"s":"b","r":27.1,"v":-0.19},{"p":3,"s":"b","r":27.8,"v":0.0},{"p":3,"s":"b","r":28.2,"v":-0.1},{"p":3,"s":"b","r":28.7,"v":0.04},{"p":3,"s":"b","r":29.1,"v":-0.19},{"p":3,"s":"b","r":29.6,"v":-0.05},{"p":3,"s":"b","r":30.1,"v":0.0},{"p":3,"s":"b","r":30.7,"v":-0.28},{"p":3,"s":"b","r":31.0,"v":0.0},{"p":3,"s":"b","r":31.6,"v":-0.05},{"p":3,"s":"b","r":32.1,"v":-0.28},{"p":3,"s":"b","r":32.5,"v":0.0},{"p":3,"s":"b","r":33.0,"v":-0.24},{"p":3,"s":"b","r":33.5,"v":-0.05},{"p":3,"s":"b","r":33.9,"v":-0.15},{"p":3,"s":"b","r":34.4,"v":0.0},{"p":3,"s":"b","r":34.9,"v":-0.24},{"p":3,"s":"b","r":35.5,"v":0.17},{"p":3,"s":"b","r":36.0,"v":-0.19},{"p":3,"s":"b","r":36.7,"v":-0.05},{"p":3,"s":"b","r":37.4,"v":-0.19},{"p":3,"s":"b","r":38.1,"v":-0.05},{"p":3,"s":"b","r":38.5,"v":-0.19},{"p":3,"s":"b","r":39.0,"v":-0.1},{"p":3,"s":"b","r":39.4,"v":-0.28},{"p":3,"s":"b","r":40.1,"v":-0.19},{"p":3,"s":"b","r":40.8,"v":-0.24},{"p":3,"s":"b","r":41.5,"v":-0.15},{"p":3,"s":"b","r":42.1,"v":-0.28},{"p":3,"s":"b","r":42.8,"v":-0.24},{"p":3,"s":"b","r":43.5,"v":-0.33},{"p":3,"s":"b","r":43.9,"v":-0.47},{"p":3,"s":"b","r":44.4,"v":-0.51},{"p":3,"s":"b","r":44.7,"v":-0.42},
{"p":3,"s":"c","r":0.5,"v":-1.1},{"p":3,"s":"c","r":0.9,"v":-0.88},{"p":3,"s":"c","r":1.6,"v":-0.83},{"p":3,"s":"c","r":2.3,"v":-0.51},{"p":3,"s":"c","r":2.7,"v":-0.35},{"p":3,"s":"c","r":3.2,"v":-0.15},{"p":3,"s":"c","r":3.6,"v":-0.05},{"p":3,"s":"c","r":4.1,"v":0.0},{"p":3,"s":"c","r":4.6,"v":0.02},{"p":3,"s":"c","r":5.0,"v":0.04},{"p":3,"s":"c","r":5.5,"v":0.1},{"p":3,"s":"c","r":5.9,"v":0.13},{"p":3,"s":"c","r":6.4,"v":0.18},{"p":3,"s":"c","r":6.8,"v":0.22},{"p":3,"s":"c","r":7.3,"v":0.2},{"p":3,"s":"c","r":7.7,"v":0.22},{"p":3,"s":"c","r":8.2,"v":0.15},{"p":3,"s":"c","r":8.6,"v":0.17},{"p":3,"s":"c","r":9.1,"v":0.2},{"p":3,"s":"c","r":9.5,"v":0.22},{"p":3,"s":"c","r":10.0,"v":0.25},{"p":3,"s":"c","r":10.5,"v":0.27},{"p":3,"s":"c","r":10.9,"v":0.22},{"p":3,"s":"c","r":11.4,"v":0.2},{"p":3,"s":"c","r":11.8,"v":0.17},{"p":3,"s":"c","r":12.3,"v":0.22},{"p":3,"s":"c","r":12.7,"v":0.27},{"p":3,"s":"c","r":13.2,"v":0.31},{"p":3,"s":"c","r":13.7,"v":0.17},{"p":3,"s":"c","r":14.1,"v":0.19},{"p":3,"s":"c","r":14.6,"v":0.17},{"p":3,"s":"c","r":15.1,"v":0.12},{"p":3,"s":"c","r":15.6,"v":0.08},{"p":3,"s":"c","r":16.0,"v":0.1},{"p":3,"s":"c","r":16.4,"v":0.13},{"p":3,"s":"c","r":16.9,"v":0.1},{"p":3,"s":"c","r":17.3,"v":0.13},{"p":3,"s":"c","r":18.0,"v":0.11},{"p":3,"s":"c","r":18.7,"v":0.1},{"p":3,"s":"c","r":19.4,"v":0.09},{"p":3,"s":"c","r":20.0,"v":0.1},{"p":3,"s":"c","r":20.5,"v":0.07},{"p":3,"s":"c","r":20.9,"v":0.04},{"p":3,"s":"c","r":21.5,"v":0.05},{"p":3,"s":"c","r":22.2,"v":0.06},{"p":3,"s":"c","r":23.5,"v":0.04},{"p":3,"s":"c","r":24.8,"v":0.03},{"p":3,"s":"c","r":26.0,"v":0.0},{"p":3,"s":"c","r":27.5,"v":-0.02},{"p":3,"s":"c","r":29.0,"v":-0.02},{"p":3,"s":"c","r":30.5,"v":-0.03},{"p":3,"s":"c","r":32.0,"v":-0.02},{"p":3,"s":"c","r":33.5,"v":-0.04},{"p":3,"s":"c","r":35.0,"v":-0.05},{"p":3,"s":"c","r":36.5,"v":-0.03},{"p":3,"s":"c","r":38.0,"v":-0.04},{"p":3,"s":"c","r":39.5,"v":-0.03},{"p":3,"s":"c","r":41.0,"v":-0.05},{"p":3,"s":"c","r":42.4,"v":-0.06},{"p":3,"s":"c","r":43.5,"v":-0.03},{"p":3,"s":"c","r":44.7,"v":-0.02},
{"p":3,"s":"d","r":0.5,"v":-1.1},{"p":3,"s":"d","r":0.9,"v":-0.7},{"p":3,"s":"d","r":1.3,"v":-0.62},{"p":3,"s":"d","r":1.6,"v":-0.56},{"p":3,"s":"d","r":2.0,"v":-0.42},{"p":3,"s":"d","r":2.5,"v":-0.28},{"p":3,"s":"d","r":2.9,"v":-0.3},{"p":3,"s":"d","r":3.2,"v":-0.15},{"p":3,"s":"d","r":3.6,"v":-0.08},{"p":3,"s":"d","r":4.1,"v":-0.05},{"p":3,"s":"d","r":4.6,"v":0.02},{"p":3,"s":"d","r":5.0,"v":0.08},{"p":3,"s":"d","r":5.5,"v":0.15},{"p":3,"s":"d","r":5.9,"v":0.22},{"p":3,"s":"d","r":6.2,"v":0.3},{"p":3,"s":"d","r":6.6,"v":0.33},{"p":3,"s":"d","r":7.0,"v":0.28},{"p":3,"s":"d","r":7.3,"v":0.29},{"p":3,"s":"d","r":7.7,"v":0.36},{"p":3,"s":"d","r":8.0,"v":0.42},{"p":3,"s":"d","r":8.3,"v":0.5},{"p":3,"s":"d","r":8.6,"v":0.59},{"p":3,"s":"d","r":8.9,"v":0.5},{"p":3,"s":"d","r":9.1,"v":0.45},{"p":3,"s":"d","r":9.5,"v":0.38},{"p":3,"s":"d","r":9.8,"v":0.36},{"p":3,"s":"d","r":10.2,"v":0.38},{"p":3,"s":"d","r":10.5,"v":0.4},{"p":3,"s":"d","r":10.9,"v":0.38},{"p":3,"s":"d","r":11.3,"v":0.36},{"p":3,"s":"d","r":11.8,"v":0.37},{"p":3,"s":"d","r":12.3,"v":0.38},{"p":3,"s":"d","r":12.7,"v":0.36},{"p":3,"s":"d","r":13.2,"v":0.4},{"p":3,"s":"d","r":13.7,"v":0.36},{"p":3,"s":"d","r":14.1,"v":0.33},{"p":3,"s":"d","r":14.6,"v":0.32},{"p":3,"s":"d","r":15.0,"v":0.31},{"p":3,"s":"d","r":15.5,"v":0.33},{"p":3,"s":"d","r":15.9,"v":0.33},{"p":3,"s":"d","r":16.4,"v":0.35},{"p":3,"s":"d","r":16.8,"v":0.36},{"p":3,"s":"d","r":17.3,"v":0.34},{"p":3,"s":"d","r":17.7,"v":0.33},{"p":3,"s":"d","r":18.4,"v":0.32},{"p":3,"s":"d","r":19.1,"v":0.31},{"p":3,"s":"d","r":19.8,"v":0.3},{"p":3,"s":"d","r":20.4,"v":0.29},{"p":3,"s":"d","r":21.3,"v":0.26},{"p":3,"s":"d","r":22.2,"v":0.24},{"p":3,"s":"d","r":23.4,"v":0.22},{"p":3,"s":"d","r":24.1,"v":0.18},{"p":3,"s":"d","r":24.8,"v":0.15},{"p":3,"s":"d","r":25.5,"v":0.14},{"p":3,"s":"d","r":26.2,"v":0.12},{"p":3,"s":"d","r":27.6,"v":0.1},{"p":3,"s":"d","r":28.9,"v":0.1},{"p":3,"s":"d","r":29.6,"v":0.11},{"p":3,"s":"d","r":30.3,"v":0.12},{"p":3,"s":"d","r":31.0,"v":0.09},{"p":3,"s":"d","r":31.6,"v":0.08},{"p":3,"s":"d","r":33.0,"v":0.07},{"p":3,"s":"d","r":34.4,"v":0.08},{"p":3,"s":"d","r":35.1,"v":0.07},{"p":3,"s":"d","r":35.8,"v":0.09},{"p":3,"s":"d","r":36.4,"v":0.07},{"p":3,"s":"d","r":37.1,"v":0.06},{"p":3,"s":"d","r":38.5,"v":0.06},{"p":3,"s":"d","r":39.4,"v":0.05},{"p":3,"s":"d","r":40.3,"v":0.04},{"p":3,"s":"d","r":41.2,"v":0.03},{"p":3,"s":"d","r":42.1,"v":0.01},{"p":3,"s":"d","r":43.0,"v":0.02},{"p":3,"s":"d","r":43.8,"v":0.0},{"p":3,"s":"d","r":44.7,"v":-0.01},
{"p":3,"s":"e","r":0.3,"v":-1.1},{"p":3,"s":"e","r":0.5,"v":-0.83},{"p":3,"s":"e","r":0.9,"v":-0.65},{"p":3,"s":"e","r":1.1,"v":-0.5},{"p":3,"s":"e","r":1.4,"v":-0.58},{"p":3,"s":"e","r":1.8,"v":-0.33},{"p":3,"s":"e","r":2.0,"v":-0.4},{"p":3,"s":"e","r":2.3,"v":-0.3},{"p":3,"s":"e","r":2.7,"v":-0.24},{"p":3,"s":"e","r":3.2,"v":-0.19},{"p":3,"s":"e","r":3.6,"v":-0.12},{"p":3,"s":"e","r":3.9,"v":-0.1},{"p":3,"s":"e","r":4.3,"v":-0.02},{"p":3,"s":"e","r":4.6,"v":0.0},{"p":3,"s":"e","r":5.0,"v":0.17},{"p":3,"s":"e","r":5.5,"v":0.27},{"p":3,"s":"e","r":5.8,"v":0.3},{"p":3,"s":"e","r":6.2,"v":0.22},{"p":3,"s":"e","r":6.5,"v":0.26},{"p":3,"s":"e","r":6.8,"v":0.27},{"p":3,"s":"e","r":7.1,"v":0.24},{"p":3,"s":"e","r":7.5,"v":0.33},{"p":3,"s":"e","r":7.9,"v":0.3},{"p":3,"s":"e","r":8.2,"v":0.31},{"p":3,"s":"e","r":8.6,"v":0.34},{"p":3,"s":"e","r":8.9,"v":0.38},{"p":3,"s":"e","r":9.3,"v":0.33},{"p":3,"s":"e","r":9.6,"v":0.32},{"p":3,"s":"e","r":10.0,"v":0.33},{"p":3,"s":"e","r":10.4,"v":0.36},{"p":3,"s":"e","r":10.7,"v":0.38},{"p":3,"s":"e","r":11.0,"v":0.45},{"p":3,"s":"e","r":11.3,"v":0.54},{"p":3,"s":"e","r":11.6,"v":0.47},{"p":3,"s":"e","r":12.0,"v":0.42},{"p":3,"s":"e","r":12.3,"v":0.4},{"p":3,"s":"e","r":12.7,"v":0.36},{"p":3,"s":"e","r":13.0,"v":0.38},{"p":3,"s":"e","r":13.4,"v":0.4},{"p":3,"s":"e","r":13.8,"v":0.38},{"p":3,"s":"e","r":14.1,"v":0.4},{"p":3,"s":"e","r":14.4,"v":0.45},{"p":3,"s":"e","r":14.8,"v":0.42},{"p":3,"s":"e","r":15.2,"v":0.37},{"p":3,"s":"e","r":15.5,"v":0.36},{"p":3,"s":"e","r":16.1,"v":0.36},{"p":3,"s":"e","r":16.5,"v":0.33},{"p":3,"s":"e","r":16.8,"v":0.31},{"p":3,"s":"e","r":17.3,"v":0.34},{"p":3,"s":"e","r":17.7,"v":0.36},{"p":3,"s":"e","r":18.2,"v":0.33},{"p":3,"s":"e","r":18.6,"v":0.31},{"p":3,"s":"e","r":19.0,"v":0.3},{"p":3,"s":"e","r":19.5,"v":0.31},{"p":3,"s":"e","r":20.0,"v":0.29},{"p":3,"s":"e","r":20.4,"v":0.27},{"p":3,"s":"e","r":20.9,"v":0.24},{"p":3,"s":"e","r":21.3,"v":0.22},{"p":3,"s":"e","r":22.2,"v":0.22},{"p":3,"s":"e","r":23.0,"v":0.2},{"p":3,"s":"e","r":23.9,"v":0.2},{"p":3,"s":"e","r":24.8,"v":0.17},{"p":3,"s":"e","r":25.7,"v":0.13},{"p":3,"s":"e","r":26.6,"v":0.1},{"p":3,"s":"e","r":27.6,"v":0.11},{"p":3,"s":"e","r":28.9,"v":0.09},{"p":3,"s":"e","r":30.3,"v":0.1},{"p":3,"s":"e","r":31.6,"v":0.06},{"p":3,"s":"e","r":32.4,"v":0.08},{"p":3,"s":"e","r":33.0,"v":0.08},{"p":3,"s":"e","r":34.4,"v":0.06},{"p":3,"s":"e","r":35.3,"v":0.1},{"p":3,"s":"e","r":36.2,"v":0.08},{"p":3,"s":"e","r":37.1,"v":0.1},{"p":3,"s":"e","r":38.0,"v":0.09},{"p":3,"s":"e","r":38.9,"v":0.07},{"p":3,"s":"e","r":39.4,"v":0.06},{"p":3,"s":"e","r":40.8,"v":0.04},{"p":3,"s":"e","r":41.7,"v":0.0},{"p":3,"s":"e","r":42.4,"v":-0.03},{"p":3,"s":"e","r":43.0,"v":0.04},{"p":3,"s":"e","r":43.5,"v":0.02},{"p":3,"s":"e","r":44.0,"v":0.03},{"p":3,"s":"e","r":44.7,"v":-0.02},
{"p":4,"s":"a","r":0.5,"v":-1.1},{"p":4,"s":"a","r":0.9,"v":-0.62},{"p":4,"s":"a","r":1.2,"v":0.1},{"p":4,"s":"a","r":1.4,"v":0.62},{"p":4,"s":"a","r":1.6,"v":0.3},{"p":4,"s":"a","r":1.8,"v":-0.3},{"p":4,"s":"a","r":2.1,"v":-0.67},{"p":4,"s":"a","r":2.2,"v":-1.0},{"p":4,"s":"a","r":2.4,"v":-0.3},{"p":4,"s":"a","r":2.7,"v":0.09},{"p":4,"s":"a","r":3.0,"v":-0.21},{"p":4,"s":"a","r":3.2,"v":-0.25},{"p":4,"s":"a","r":3.6,"v":-0.23},{"p":4,"s":"a","r":3.9,"v":0.05},{"p":4,"s":"a","r":4.1,"v":0.35},{"p":4,"s":"a","r":4.4,"v":0.6},{"p":4,"s":"a","r":4.6,"v":0.6},{"p":4,"s":"a","r":5.0,"v":0.6},{"p":4,"s":"a","r":5.2,"v":0.45},{"p":4,"s":"a","r":5.5,"v":0.85},{"p":4,"s":"a","r":5.9,"v":0.71},{"p":4,"s":"a","r":6.1,"v":0.8},{"p":4,"s":"a","r":6.4,"v":0.85},{"p":4,"s":"a","r":6.8,"v":1.0},{"p":4,"s":"a","r":7.2,"v":0.8},{"p":4,"s":"a","r":7.7,"v":0.48},{"p":4,"s":"a","r":8.0,"v":0.39},{"p":4,"s":"a","r":8.4,"v":0.94},{"p":4,"s":"a","r":8.9,"v":1.2},{"p":4,"s":"a","r":9.3,"v":1.15},{"p":4,"s":"a","r":9.8,"v":1.0},{"p":4,"s":"a","r":10.2,"v":0.96},{"p":4,"s":"a","r":10.7,"v":1.15},{"p":4,"s":"a","r":11.2,"v":1.29},{"p":4,"s":"a","r":11.5,"v":1.15},{"p":4,"s":"a","r":11.8,"v":0.96},{"p":4,"s":"a","r":12.3,"v":0.92},{"p":4,"s":"a","r":12.7,"v":0.78},{"p":4,"s":"a","r":13.1,"v":0.96},{"p":4,"s":"a","r":13.4,"v":1.13},{"p":4,"s":"a","r":13.9,"v":1.2},{"p":4,"s":"a","r":14.3,"v":1.0},{"p":4,"s":"a","r":14.8,"v":0.92},{"p":4,"s":"a","r":15.2,"v":0.99},{"p":4,"s":"a","r":15.7,"v":0.9},{"p":4,"s":"a","r":16.1,"v":0.92},{"p":4,"s":"a","r":16.6,"v":0.9},{"p":4,"s":"a","r":17.0,"v":0.76},{"p":4,"s":"a","r":17.5,"v":0.96},{"p":4,"s":"a","r":17.9,"v":0.8},{"p":4,"s":"a","r":18.4,"v":0.76},{"p":4,"s":"a","r":18.9,"v":0.78},{"p":4,"s":"a","r":19.3,"v":0.71},{"p":4,"s":"a","r":19.8,"v":0.67},{"p":4,"s":"a","r":20.3,"v":0.62},{"p":4,"s":"a","r":20.7,"v":0.69},{"p":4,"s":"a","r":21.2,"v":0.67},{"p":4,"s":"a","r":21.6,"v":0.6},{"p":4,"s":"a","r":22.1,"v":0.53},{"p":4,"s":"a","r":22.8,"v":0.57},{"p":4,"s":"a","r":23.2,"v":0.53},{"p":4,"s":"a","r":23.7,"v":0.46},{"p":4,"s":"a","r":24.1,"v":0.44},{"p":4,"s":"a","r":24.6,"v":0.5},{"p":4,"s":"a","r":25.0,"v":0.44},{"p":4,"s":"a","r":25.5,"v":0.39},{"p":4,"s":"a","r":25.9,"v":0.42},{"p":4,"s":"a","r":26.4,"v":0.39},{"p":4,"s":"a","r":26.9,"v":0.32},{"p":4,"s":"a","r":27.3,"v":0.39},{"p":4,"s":"a","r":27.8,"v":0.37},{"p":4,"s":"a","r":28.2,"v":0.42},{"p":4,"s":"a","r":28.7,"v":0.35},{"p":4,"s":"a","r":29.1,"v":0.32},{"p":4,"s":"a","r":29.6,"v":0.37},{"p":4,"s":"a","r":30.1,"v":0.39},{"p":4,"s":"a","r":30.5,"v":0.32},{"p":4,"s":"a","r":31.0,"v":0.37},{"p":4,"s":"a","r":31.4,"v":0.32},{"p":4,"s":"a","r":31.9,"v":0.28},{"p":4,"s":"a","r":32.3,"v":0.32},{"p":4,"s":"a","r":32.8,"v":0.25},{"p":4,"s":"a","r":33.2,"v":0.21},{"p":4,"s":"a","r":33.7,"v":0.25},{"p":4,"s":"a","r":34.1,"v":0.18},{"p":4,"s":"a","r":34.6,"v":0.21},{"p":4,"s":"a","r":35.0,"v":0.16},{"p":4,"s":"a","r":35.5,"v":0.14},{"p":4,"s":"a","r":35.9,"v":0.11},{"p":4,"s":"a","r":36.4,"v":0.11},{"p":4,"s":"a","r":36.8,"v":0.07},{"p":4,"s":"a","r":37.3,"v":0.07},{"p":4,"s":"a","r":37.7,"v":0.02},{"p":4,"s":"a","r":38.2,"v":0.05},{"p":4,"s":"a","r":38.7,"v":0.07},{"p":4,"s":"a","r":39.1,"v":0.0},{"p":4,"s":"a","r":39.6,"v":0.07},{"p":4,"s":"a","r":40.0,"v":0.05},{"p":4,"s":"a","r":40.5,"v":0.0},{"p":4,"s":"a","r":40.9,"v":0.02},{"p":4,"s":"a","r":41.4,"v":0.0},{"p":4,"s":"a","r":41.9,"v":0.02},{"p":4,"s":"a","r":42.3,"v":0.0},{"p":4,"s":"a","r":42.8,"v":0.05},{"p":4,"s":"a","r":43.2,"v":-0.05},{"p":4,"s":"a","r":43.7,"v":-0.07},{"p":4,"s":"a","r":44.1,"v":-0.09},{"p":4,"s":"a","r":44.6,"v":-0.16},
{"p":4,"s":"d","r":0.5,"v":-1.1},{"p":4,"s":"d","r":0.8,"v":0.3},{"p":4,"s":"d","r":1.0,"v":0.78},{"p":4,"s":"d","r":1.3,"v":0.7},{"p":4,"s":"d","r":1.6,"v":0.57},{"p":4,"s":"d","r":1.8,"v":0.0},{"p":4,"s":"d","r":2.1,"v":-1.0},{"p":4,"s":"d","r":2.3,"v":-0.8},{"p":4,"s":"d","r":2.5,"v":-0.44},{"p":4,"s":"d","r":3.0,"v":-0.02},{"p":4,"s":"d","r":3.4,"v":-0.67},{"p":4,"s":"d","r":3.9,"v":-0.58},{"p":4,"s":"d","r":4.3,"v":-0.3},{"p":4,"s":"d","r":4.8,"v":0.07},{"p":4,"s":"d","r":5.2,"v":-0.16},{"p":4,"s":"d","r":5.7,"v":0.16},{"p":4,"s":"d","r":6.2,"v":0.21},{"p":4,"s":"d","r":6.6,"v":0.35},{"p":4,"s":"d","r":7.1,"v":0.5},{"p":4,"s":"d","r":7.5,"v":0.46},{"p":4,"s":"d","r":8.0,"v":0.21},{"p":4,"s":"d","r":8.4,"v":0.62},{"p":4,"s":"d","r":8.9,"v":0.85},{"p":4,"s":"d","r":9.3,"v":0.99},{"p":4,"s":"d","r":9.8,"v":0.66},{"p":4,"s":"d","r":10.1,"v":0.21},{"p":4,"s":"d","r":10.5,"v":-0.07},{"p":4,"s":"d","r":10.9,"v":0.44},{"p":4,"s":"d","r":11.3,"v":0.5},{"p":4,"s":"d","r":11.8,"v":0.25},{"p":4,"s":"d","r":12.2,"v":-0.14},{"p":4,"s":"d","r":12.7,"v":0.12},{"p":4,"s":"d","r":13.1,"v":0.0},{"p":4,"s":"d","r":13.6,"v":0.21},{"p":4,"s":"d","r":14.0,"v":0.35},{"p":4,"s":"d","r":14.5,"v":0.12},{"p":4,"s":"d","r":15.0,"v":0.3},{"p":4,"s":"d","r":15.4,"v":0.21},{"p":4,"s":"d","r":15.9,"v":0.23},{"p":4,"s":"d","r":16.4,"v":0.16},{"p":4,"s":"d","r":17.0,"v":0.09},{"p":4,"s":"d","r":17.5,"v":0.25},{"p":4,"s":"d","r":18.0,"v":0.37},{"p":4,"s":"d","r":18.4,"v":0.48},{"p":4,"s":"d","r":19.0,"v":0.3},{"p":4,"s":"d","r":19.6,"v":0.18},{"p":4,"s":"d","r":20.3,"v":0.18},{"p":4,"s":"d","r":20.9,"v":0.21},{"p":4,"s":"d","r":21.6,"v":0.07},{"p":4,"s":"d","r":22.1,"v":0.02},{"p":4,"s":"d","r":22.5,"v":-0.05},{"p":4,"s":"d","r":23.2,"v":0.02},{"p":4,"s":"d","r":23.9,"v":0.0},{"p":4,"s":"d","r":24.6,"v":0.09},{"p":4,"s":"d","r":25.0,"v":0.32},{"p":4,"s":"d","r":25.5,"v":0.25},{"p":4,"s":"d","r":25.9,"v":0.23},{"p":4,"s":"d","r":26.4,"v":0.14},{"p":4,"s":"d","r":26.9,"v":-0.07},{"p":4,"s":"d","r":27.3,"v":0.02},{"p":4,"s":"d","r":27.8,"v":-0.07},{"p":4,"s":"d","r":28.2,"v":0.02},{"p":4,"s":"d","r":28.7,"v":-0.05},{"p":4,"s":"d","r":29.1,"v":0.11},{"p":4,"s":"d","r":29.4,"v":0.23},{"p":4,"s":"d","r":29.8,"v":-0.02},{"p":4,"s":"d","r":30.3,"v":0.0},{"p":4,"s":"d","r":30.7,"v":-0.05},{"p":4,"s":"d","r":31.2,"v":0.14},{"p":4,"s":"d","r":31.6,"v":0.02},{"p":4,"s":"d","r":32.1,"v":0.0},{"p":4,"s":"d","r":32.5,"v":-0.02},{"p":4,"s":"d","r":33.0,"v":0.07},{"p":4,"s":"d","r":33.5,"v":-0.02},{"p":4,"s":"d","r":33.9,"v":-0.09},{"p":4,"s":"d","r":34.4,"v":0.0},{"p":4,"s":"d","r":34.9,"v":-0.02},{"p":4,"s":"d","r":35.3,"v":0.05},{"p":4,"s":"d","r":35.8,"v":-0.02},{"p":4,"s":"d","r":36.2,"v":-0.11},{"p":4,"s":"d","r":36.7,"v":-0.02},{"p":4,"s":"d","r":37.1,"v":-0.11},{"p":4,"s":"d","r":37.6,"v":-0.21},{"p":4,"s":"d","r":37.8,"v":-0.07},{"p":4,"s":"d","r":38.3,"v":-0.14},{"p":4,"s":"d","r":38.7,"v":-0.32},{"p":4,"s":"d","r":39.2,"v":-0.11},{"p":4,"s":"d","r":39.6,"v":-0.21},{"p":4,"s":"d","r":40.1,"v":-0.02},{"p":4,"s":"d","r":40.5,"v":-0.16},{"p":4,"s":"d","r":41.0,"v":-0.21},{"p":4,"s":"d","r":41.5,"v":-0.25},{"p":4,"s":"d","r":41.9,"v":-0.3},{"p":4,"s":"d","r":42.4,"v":-0.16},{"p":4,"s":"d","r":42.8,"v":-0.16},{"p":4,"s":"d","r":43.3,"v":-0.21},{"p":4,"s":"d","r":43.7,"v":-0.28},{"p":4,"s":"d","r":44.2,"v":-0.25},{"p":4,"s":"d","r":44.5,"v":-0.16},
{"p":4,"s":"e","r":0.5,"v":-1.1},{"p":4,"s":"e","r":1.1,"v":-0.9},{"p":4,"s":"e","r":1.5,"v":-0.75},{"p":4,"s":"e","r":1.8,"v":-0.53},{"p":4,"s":"e","r":2.3,"v":-0.49},{"p":4,"s":"e","r":2.7,"v":-0.39},{"p":4,"s":"e","r":3.0,"v":-0.1},{"p":4,"s":"e","r":3.2,"v":0.02},{"p":4,"s":"e","r":3.6,"v":0.0},{"p":4,"s":"e","r":4.1,"v":0.53},{"p":4,"s":"e","r":4.5,"v":0.23},{"p":4,"s":"e","r":4.9,"v":0.32},{"p":4,"s":"e","r":5.4,"v":0.9},{"p":4,"s":"e","r":5.9,"v":0.8},{"p":4,"s":"e","r":6.4,"v":0.5},{"p":4,"s":"e","r":6.8,"v":0.92},{"p":4,"s":"e","r":7.3,"v":0.53},{"p":4,"s":"e","r":7.7,"v":0.46},{"p":4,"s":"e","r":8.2,"v":0.8},{"p":4,"s":"e","r":8.6,"v":0.9},{"p":4,"s":"e","r":9.1,"v":1.08},{"p":4,"s":"e","r":9.6,"v":1.17},{"p":4,"s":"e","r":9.9,"v":1.35},{"p":4,"s":"e","r":10.5,"v":1.35},{"p":4,"s":"e","r":10.8,"v":0.92},{"p":4,"s":"e","r":11.3,"v":1.22},{"p":4,"s":"e","r":11.6,"v":1.08},{"p":4,"s":"e","r":11.9,"v":0.92},{"p":4,"s":"e","r":12.4,"v":0.71},{"p":4,"s":"e","r":12.8,"v":0.85},{"p":4,"s":"e","r":13.2,"v":0.99},{"p":4,"s":"e","r":13.7,"v":1.08},{"p":4,"s":"e","r":14.1,"v":1.01},{"p":4,"s":"e","r":14.6,"v":0.85},{"p":4,"s":"e","r":15.0,"v":0.94},{"p":4,"s":"e","r":15.5,"v":0.85},{"p":4,"s":"e","r":15.9,"v":0.9},{"p":4,"s":"e","r":16.4,"v":0.83},{"p":4,"s":"e","r":16.8,"v":0.92},{"p":4,"s":"e","r":17.3,"v":0.83},{"p":4,"s":"e","r":17.8,"v":0.8},{"p":4,"s":"e","r":18.2,"v":0.85},{"p":4,"s":"e","r":18.7,"v":0.76},{"p":4,"s":"e","r":19.1,"v":0.8},{"p":4,"s":"e","r":19.6,"v":0.69},{"p":4,"s":"e","r":20.0,"v":0.67},{"p":4,"s":"e","r":20.5,"v":0.71},{"p":4,"s":"e","r":20.9,"v":0.76},{"p":4,"s":"e","r":21.4,"v":0.64},{"p":4,"s":"e","r":21.8,"v":0.6},{"p":4,"s":"e","r":22.3,"v":0.48},{"p":4,"s":"e","r":22.6,"v":0.5},{"p":4,"s":"e","r":23.0,"v":0.6},{"p":4,"s":"e","r":23.4,"v":0.55},{"p":4,"s":"e","r":23.9,"v":0.64},{"p":4,"s":"e","r":24.4,"v":0.55},{"p":4,"s":"e","r":24.8,"v":0.5},{"p":4,"s":"e","r":25.3,"v":0.53},{"p":4,"s":"e","r":25.7,"v":0.44},{"p":4,"s":"e","r":26.2,"v":0.5},{"p":4,"s":"e","r":26.6,"v":0.46},{"p":4,"s":"e","r":27.1,"v":0.42},{"p":4,"s":"e","r":27.6,"v":0.44},{"p":4,"s":"e","r":28.0,"v":0.39},{"p":4,"s":"e","r":28.5,"v":0.42},{"p":4,"s":"e","r":28.9,"v":0.3},{"p":4,"s":"e","r":29.4,"v":0.42},{"p":4,"s":"e","r":29.8,"v":0.37},{"p":4,"s":"e","r":30.3,"v":0.42},{"p":4,"s":"e","r":30.7,"v":0.39},{"p":4,"s":"e","r":31.2,"v":0.46},{"p":4,"s":"e","r":31.6,"v":0.37},{"p":4,"s":"e","r":32.1,"v":0.39},{"p":4,"s":"e","r":32.5,"v":0.32},{"p":4,"s":"e","r":33.0,"v":0.35},{"p":4,"s":"e","r":33.5,"v":0.28},{"p":4,"s":"e","r":33.9,"v":0.3},{"p":4,"s":"e","r":34.4,"v":0.23},{"p":4,"s":"e","r":34.8,"v":0.25},{"p":4,"s":"e","r":35.3,"v":0.21},{"p":4,"s":"e","r":35.8,"v":0.16},{"p":4,"s":"e","r":36.2,"v":0.18},{"p":4,"s":"e","r":36.7,"v":0.14},{"p":4,"s":"e","r":37.1,"v":0.16},{"p":4,"s":"e","r":37.6,"v":0.07},{"p":4,"s":"e","r":38.0,"v":0.11},{"p":4,"s":"e","r":38.5,"v":0.09},{"p":4,"s":"e","r":38.9,"v":0.07},{"p":4,"s":"e","r":39.4,"v":0.09},{"p":4,"s":"e","r":39.8,"v":0.02},{"p":4,"s":"e","r":40.3,"v":0.05},{"p":4,"s":"e","r":40.7,"v":-0.05},{"p":4,"s":"e","r":41.2,"v":0.02},{"p":4,"s":"e","r":41.6,"v":-0.02},{"p":4,"s":"e","r":42.1,"v":0.05},{"p":4,"s":"e","r":42.6,"v":0.11},{"p":4,"s":"e","r":43.0,"v":0.14},{"p":4,"s":"e","r":43.5,"v":0.05},{"p":4,"s":"e","r":43.9,"v":-0.05},{"p":4,"s":"e","r":44.3,"v":-0.16},{"p":4,"s":"e","r":44.6,"v":-0.25}
]},
"vconcat":[
{"width":327,"height":167.7,
"resolve":{"axis":{"x":"independent","y":"independent"},"legend":{"color":"independent"}},
"layer":[
{"data":{"values":[{"zero":0}]},"mark":{"type":"rule","color":"#808080","strokeDash":[5,3],"strokeWidth":1.2},
"encoding":{"y":{"field":"zero","type":"quantitative","scale":{"domain":[-1,1.31],"nice":false,"zero":false},"axis":{"orient":"left","values":[-0.9,-0.8,-0.7,-0.6,-0.4,-0.3,-0.2,-0.1,0.1,0.2,0.3,0.4,0.6,0.7,0.8,0.9,1.1,1.2,1.3],"labels":false,"title":null,"tickSize":-3,"minExtent":0,"maxExtent":0}},
"x":{"datum":0,"type":"quantitative","scale":{"domain":[0,44.7],"nice":false,"zero":false},"axis":{"orient":"bottom","values":[2,4,6,8,12,14,16,18,22,24,26,28,32,34,36,38,42,44],"labels":false,"title":null,"tickSize":-3,"minExtent":0,"maxExtent":0}},"x2":{"datum":44.7}}},
{"data":{"name":"curves"},"transform":[{"filter":"datum.p==1&&(datum.s=='a'||datum.s=='b')"}],"mark":{"type":"line","strokeWidth":2.3,"clip":true},
"encoding":{"x":{"field":"r","type":"quantitative","scale":{"domain":[0,44.7],"nice":false,"zero":false},"axis":{"orient":"bottom","values":[0,10,20,30,40],"labels":false,"title":null,"tickSize":-6,"minExtent":0,"maxExtent":0}},
"y":{"field":"v","type":"quantitative","scale":{"domain":[-1,1.31],"nice":false,"zero":false},"axis":{"orient":"left","values":[-1,-0.5,0,0.5,1],"format":".1f","tickSize":-6,"labelPadding":10,"title":"⟨T(r)⟩/T̄ − 1","titlePadding":4}},
"color":{"field":"s","type":"nominal","scale":{"domain":["a","b","c","d","e"],"range":["#000000","#2196f3","#19bcb1","#7ccb4f","#fdb733"]},
"legend":{"values":["a","b"],"orient":"none","legendX":53,"legendY":12,"title":null,"padding":0,"symbolType":"M-3,0H3","symbolSize":121,"symbolStrokeWidth":3,"labelOffset":14,"rowPadding":8,"labelExpr":"datum.label=='a'?'all galaxies':datum.label=='b'?'0 ≤ δgal < 1':datum.label=='c'?'1 ≤ δgal < 2':datum.label=='d'?'2 ≤ δgal < 3':'3 ≤ δgal < 4'"}}}},
{"data":{"name":"curves"},"transform":[{"filter":"datum.p==1&&datum.s!='a'&&datum.s!='b'"}],"mark":{"type":"line","strokeWidth":2.3,"clip":true},
"encoding":{"x":{"field":"r","type":"quantitative","scale":{"domain":[0,44.7],"nice":false,"zero":false},"axis":{"orient":"top","values":[0,10,20,30,40],"labels":false,"title":null,"tickSize":-6,"minExtent":0,"maxExtent":0}},
"y":{"field":"v","type":"quantitative","scale":{"domain":[-1,1.31],"nice":false,"zero":false},"axis":{"orient":"right","values":[-1,-0.5,0,0.5,1],"labels":false,"title":null,"tickSize":-6,"minExtent":0,"maxExtent":0}},
"color":{"field":"s","type":"nominal","scale":{"domain":["a","b","c","d","e"],"range":["#000000","#2196f3","#19bcb1","#7ccb4f","#fdb733"]},
"legend":{"values":["c","d","e"],"orient":"none","legendX":205,"legendY":12,"title":null,"padding":0,"symbolType":"M-3,0H3","symbolSize":121,"symbolStrokeWidth":3,"labelOffset":11,"rowPadding":8,"labelExpr":"datum.label=='a'?'all galaxies':datum.label=='b'?'0 ≤ δgal < 1':datum.label=='c'?'1 ≤ δgal < 2':datum.label=='d'?'2 ≤ δgal < 3':'3 ≤ δgal < 4'"}}}},
{"data":{"values":[{"t":"log(Mₛₜₐᵣ/M⊙) > 8"}]},"mark":{"type":"text","align":"right","baseline":"alphabetic","fontSize":19,"font":"Liberation Serif","color":"#222"},
"encoding":{"text":{"field":"t"},"x":{"datum":42.9,"type":"quantitative","scale":{"domain":[0,44.7],"nice":false,"zero":false},"axis":{"orient":"top","values":[2,4,6,8,12,14,16,18,22,24,26,28,32,34,36,38,42,44],"labels":false,"title":null,"tickSize":-3,"minExtent":0,"maxExtent":0}},
"y":{"datum":-0.83,"type":"quantitative","scale":{"domain":[-1,1.31],"nice":false,"zero":false},"axis":{"orient":"right","values":[-0.9,-0.8,-0.7,-0.6,-0.4,-0.3,-0.2,-0.1,0.1,0.2,0.3,0.4,0.6,0.7,0.8,0.9,1.1,1.2,1.3],"labels":false,"title":null,"tickSize":-3,"minExtent":0,"maxExtent":0}}}}
]},
{"width":327,"height":167.7,
"resolve":{"axis":{"x":"independent","y":"independent"}},
"layer":[
{"data":{"values":[{"zero":0}]},"mark":{"type":"rule","color":"#808080","strokeDash":[5,3],"strokeWidth":1.2},
"encoding":{"y":{"field":"zero","type":"quantitative","scale":{"domain":[-1,1.31],"nice":false,"zero":false},"axis":{"orient":"left","values":[-0.9,-0.8,-0.7,-0.6,-0.4,-0.3,-0.2,-0.1,0.1,0.2,0.3,0.4,0.6,0.7,0.8,0.9,1.1,1.2,1.3],"labels":false,"title":null,"tickSize":-3,"minExtent":0,"maxExtent":0}},
"x":{"datum":0,"type":"quantitative","scale":{"domain":[0,44.7],"nice":false,"zero":false},"axis":{"orient":"bottom","values":[2,4,6,8,12,14,16,18,22,24,26,28,32,34,36,38,42,44],"labels":false,"title":null,"tickSize":-3,"minExtent":0,"maxExtent":0}},"x2":{"datum":44.7}}},
{"data":{"name":"curves"},"transform":[{"filter":"datum.p==2&&(datum.s=='a'||datum.s=='b')"}],"mark":{"type":"line","strokeWidth":2.3,"clip":true},
"encoding":{"x":{"field":"r","type":"quantitative","scale":{"domain":[0,44.7],"nice":false,"zero":false},"axis":{"orient":"bottom","values":[0,10,20,30,40],"labels":false,"title":null,"tickSize":-6,"minExtent":0,"maxExtent":0}},
"y":{"field":"v","type":"quantitative","scale":{"domain":[-1,1.31],"nice":false,"zero":false},"axis":{"orient":"left","values":[-1,-0.5,0,0.5,1],"format":".1f","tickSize":-6,"labelPadding":10,"title":"⟨T(r)⟩/T̄ − 1","titlePadding":4}},
"color":{"field":"s","type":"nominal","scale":{"domain":["a","b","c","d","e"],"range":["#000000","#2196f3","#19bcb1","#7ccb4f","#fdb733"]},"legend":null}}},
{"data":{"name":"curves"},"transform":[{"filter":"datum.p==2&&datum.s!='a'&&datum.s!='b'"}],"mark":{"type":"line","strokeWidth":2.3,"clip":true},
"encoding":{"x":{"field":"r","type":"quantitative","scale":{"domain":[0,44.7],"nice":false,"zero":false},"axis":{"orient":"top","values":[0,10,20,30,40],"labels":false,"title":null,"tickSize":-6,"minExtent":0,"maxExtent":0}},
"y":{"field":"v","type":"quantitative","scale":{"domain":[-1,1.31],"nice":false,"zero":false},"axis":{"orient":"right","values":[-1,-0.5,0,0.5,1],"labels":false,"title":null,"tickSize":-6,"minExtent":0,"maxExtent":0}},
"color":{"field":"s","type":"nominal","scale":{"domain":["a","b","c","d","e"],"range":["#000000","#2196f3","#19bcb1","#7ccb4f","#fdb733"]},"legend":null}}},
{"data":{"values":[{"t":"8 ≤ log(Mₛₜₐᵣ/M⊙) < 9"}]},"mark":{"type":"text","align":"right","baseline":"alphabetic","fontSize":19,"font":"Liberation Serif","color":"#222"},
"encoding":{"text":{"field":"t"},"x":{"datum":42.9,"type":"quantitative","scale":{"domain":[0,44.7],"nice":false,"zero":false},"axis":{"orient":"top","values":[2,4,6,8,12,14,16,18,22,24,26,28,32,34,36,38,42,44],"labels":false,"title":null,"tickSize":-3,"minExtent":0,"maxExtent":0}},
"y":{"datum":-0.83,"type":"quantitative","scale":{"domain":[-1,1.31],"nice":false,"zero":false},"axis":{"orient":"right","values":[-0.9,-0.8,-0.7,-0.6,-0.4,-0.3,-0.2,-0.1,0.1,0.2,0.3,0.4,0.6,0.7,0.8,0.9,1.1,1.2,1.3],"labels":false,"title":null,"tickSize":-3,"minExtent":0,"maxExtent":0}}}}
]},
{"width":327,"height":167.7,
"resolve":{"axis":{"x":"independent","y":"independent"}},
"layer":[
{"data":{"values":[{"zero":0}]},"mark":{"type":"rule","color":"#808080","strokeDash":[5,3],"strokeWidth":1.2},
"encoding":{"y":{"field":"zero","type":"quantitative","scale":{"domain":[-1,1.31],"nice":false,"zero":false},"axis":{"orient":"left","values":[-0.9,-0.8,-0.7,-0.6,-0.4,-0.3,-0.2,-0.1,0.1,0.2,0.3,0.4,0.6,0.7,0.8,0.9,1.1,1.2,1.3],"labels":false,"title":null,"tickSize":-3,"minExtent":0,"maxExtent":0}},
"x":{"datum":0,"type":"quantitative","scale":{"domain":[0,44.7],"nice":false,"zero":false},"axis":{"orient":"bottom","values":[2,4,6,8,12,14,16,18,22,24,26,28,32,34,36,38,42,44],"labels":false,"title":null,"tickSize":-3,"minExtent":0,"maxExtent":0}},"x2":{"datum":44.7}}},
{"data":{"name":"curves"},"transform":[{"filter":"datum.p==3&&(datum.s=='a'||datum.s=='b')"}],"mark":{"type":"line","strokeWidth":2.3,"clip":true},
"encoding":{"x":{"field":"r","type":"quantitative","scale":{"domain":[0,44.7],"nice":false,"zero":false},"axis":{"orient":"bottom","values":[0,10,20,30,40],"labels":false,"title":null,"tickSize":-6,"minExtent":0,"maxExtent":0}},
"y":{"field":"v","type":"quantitative","scale":{"domain":[-1,1.31],"nice":false,"zero":false},"axis":{"orient":"left","values":[-1,-0.5,0,0.5,1],"format":".1f","tickSize":-6,"labelPadding":10,"title":"⟨T(r)⟩/T̄ − 1","titlePadding":4}},
"color":{"field":"s","type":"nominal","scale":{"domain":["a","b","c","d","e"],"range":["#000000","#2196f3","#19bcb1","#7ccb4f","#fdb733"]},"legend":null}}},
{"data":{"name":"curves"},"transform":[{"filter":"datum.p==3&&datum.s!='a'&&datum.s!='b'"}],"mark":{"type":"line","strokeWidth":2.3,"clip":true},
"encoding":{"x":{"field":"r","type":"quantitative","scale":{"domain":[0,44.7],"nice":false,"zero":false},"axis":{"orient":"top","values":[0,10,20,30,40],"labels":false,"title":null,"tickSize":-6,"minExtent":0,"maxExtent":0}},
"y":{"field":"v","type":"quantitative","scale":{"domain":[-1,1.31],"nice":false,"zero":false},"axis":{"orient":"right","values":[-1,-0.5,0,0.5,1],"labels":false,"title":null,"tickSize":-6,"minExtent":0,"maxExtent":0}},
"color":{"field":"s","type":"nominal","scale":{"domain":["a","b","c","d","e"],"range":["#000000","#2196f3","#19bcb1","#7ccb4f","#fdb733"]},"legend":null}}},
{"data":{"values":[{"t":"9 ≤ log(Mₛₜₐᵣ/M⊙) < 10"}]},"mark":{"type":"text","align":"right","baseline":"alphabetic","fontSize":19,"font":"Liberation Serif","color":"#222"},
"encoding":{"text":{"field":"t"},"x":{"datum":42.9,"type":"quantitative","scale":{"domain":[0,44.7],"nice":false,"zero":false},"axis":{"orient":"top","values":[2,4,6,8,12,14,16,18,22,24,26,28,32,34,36,38,42,44],"labels":false,"title":null,"tickSize":-3,"minExtent":0,"maxExtent":0}},
"y":{"datum":-0.83,"type":"quantitative","scale":{"domain":[-1,1.31],"nice":false,"zero":false},"axis":{"orient":"right","values":[-0.9,-0.8,-0.7,-0.6,-0.4,-0.3,-0.2,-0.1,0.1,0.2,0.3,0.4,0.6,0.7,0.8,0.9,1.1,1.2,1.3],"labels":false,"title":null,"tickSize":-3,"minExtent":0,"maxExtent":0}}}}
]},
{"width":327,"height":167.7,
"resolve":{"axis":{"x":"independent","y":"independent"}},
"layer":[
{"data":{"values":[{"zero":0}]},"mark":{"type":"rule","color":"#808080","strokeDash":[5,3],"strokeWidth":1.2},
"encoding":{"y":{"field":"zero","type":"quantitative","scale":{"domain":[-1,1.31],"nice":false,"zero":false},"axis":{"orient":"left","values":[-0.9,-0.8,-0.7,-0.6,-0.4,-0.3,-0.2,-0.1,0.1,0.2,0.3,0.4,0.6,0.7,0.8,0.9,1.1,1.2,1.3],"labels":false,"title":null,"tickSize":-3,"minExtent":0,"maxExtent":0}},
"x":{"datum":0,"type":"quantitative","scale":{"domain":[0,44.7],"nice":false,"zero":false},"axis":{"orient":"bottom","values":[2,4,6,8,12,14,16,18,22,24,26,28,32,34,36,38,42,44],"labels":false,"title":null,"tickSize":-3,"minExtent":0,"maxExtent":0}},"x2":{"datum":44.7}}},
{"data":{"name":"curves"},"transform":[{"filter":"datum.p==4&&datum.s=='a'"}],"mark":{"type":"line","strokeWidth":2.3,"clip":true},
"encoding":{"x":{"field":"r","type":"quantitative","scale":{"domain":[0,44.7],"nice":false,"zero":false},"axis":{"orient":"bottom","values":[0,10,20,30,40],"tickSize":-6,"labelPadding":9,"title":"r[cMpc/h]","titlePadding":3}},
"y":{"field":"v","type":"quantitative","scale":{"domain":[-1,1.31],"nice":false,"zero":false},"axis":{"orient":"left","values":[-1,-0.5,0,0.5,1],"format":".1f","tickSize":-6,"labelPadding":10,"title":"⟨T(r)⟩/T̄ − 1","titlePadding":4}},
"color":{"field":"s","type":"nominal","scale":{"domain":["a","b","c","d","e"],"range":["#000000","#2196f3","#19bcb1","#7ccb4f","#fdb733"]},"legend":null}}},
{"data":{"name":"curves"},"transform":[{"filter":"datum.p==4&&datum.s!='a'"}],"mark":{"type":"line","strokeWidth":2.3,"clip":true},
"encoding":{"x":{"field":"r","type":"quantitative","scale":{"domain":[0,44.7],"nice":false,"zero":false},"axis":{"orient":"top","values":[0,10,20,30,40],"labels":false,"title":null,"tickSize":-6,"minExtent":0,"maxExtent":0}},
"y":{"field":"v","type":"quantitative","scale":{"domain":[-1,1.31],"nice":false,"zero":false},"axis":{"orient":"right","values":[-1,-0.5,0,0.5,1],"labels":false,"title":null,"tickSize":-6,"minExtent":0,"maxExtent":0}},
"color":{"field":"s","type":"nominal","scale":{"domain":["a","b","c","d","e"],"range":["#000000","#2196f3","#19bcb1","#7ccb4f","#fdb733"]},"legend":null}}},
{"data":{"values":[{"t":"10 ≤ log(Mₛₜₐᵣ/M⊙) < 11"}]},"mark":{"type":"text","align":"right","baseline":"alphabetic","fontSize":19,"font":"Liberation Serif","color":"#222"},
"encoding":{"text":{"field":"t"},"x":{"datum":42.9,"type":"quantitative","scale":{"domain":[0,44.7],"nice":false,"zero":false},"axis":{"orient":"top","values":[2,4,6,8,12,14,16,18,22,24,26,28,32,34,36,38,42,44],"labels":false,"title":null,"tickSize":-3,"minExtent":0,"maxExtent":0}},
"y":{"datum":-0.83,"type":"quantitative","scale":{"domain":[-1,1.31],"nice":false,"zero":false},"axis":{"orient":"right","values":[-0.9,-0.8,-0.7,-0.6,-0.4,-0.3,-0.2,-0.1,0.1,0.2,0.3,0.4,0.6,0.7,0.8,0.9,1.1,1.2,1.3],"labels":false,"title":null,"tickSize":-3,"minExtent":0,"maxExtent":0}}}}
]}
]
}
